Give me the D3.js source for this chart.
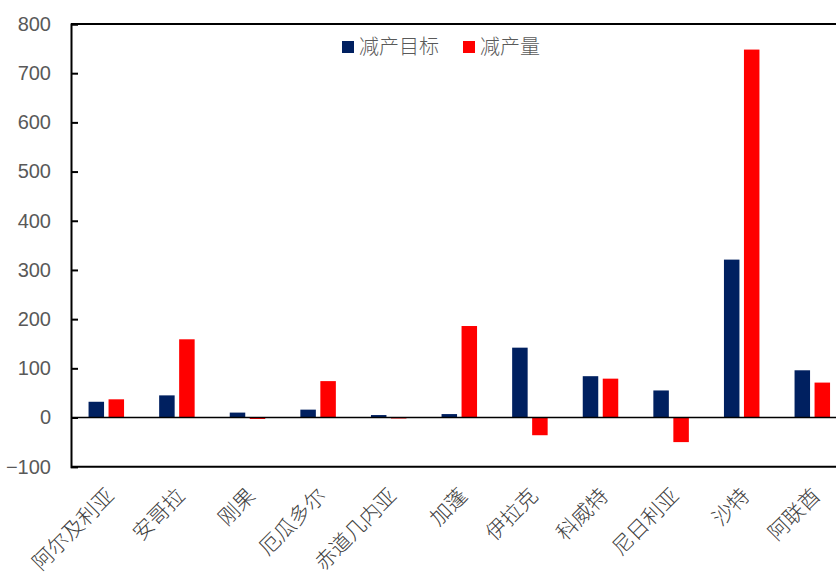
<!DOCTYPE html>
<html>
<head>
<meta charset="utf-8">
<script src="https://cdn.jsdelivr.net/npm/d3@7"></script>
<style>
  body { margin: 0; background: #fff; }
  svg { display: block; }
</style>
</head>
<body>
<div id="chart"></div>
<script>
// data
var countries = ["阿尔及利亚", "安哥拉", "刚果", "厄瓜多尔", "赤道几内亚", "加蓬", "伊拉克", "科威特", "尼日利亚", "沙特", "阿联酋"];
var targetCut = [32, 45, 10, 16, 5, 7, 142, 84, 55, 321, 96];
var actualCut = [37, 159, -3, 74, -2, 186, -36, 79, -50, 748, 71];
var seriesNames = ["减产目标", "减产量"];
var seriesColors = ["#002060", "#ff0000"];
var yTicks = [-100, 0, 100, 200, 300, 400, 500, 600, 700, 800];

var W = 836, H = 585;
var m = {top: 24, left: 71, bottom: 118};
var plotW = 70.6 * countries.length;

var svg = d3.select("#chart").append("svg")
  .attr("width", W)
  .attr("height", H);

var x = d3.scaleBand()
  .domain(countries)
  .range([m.left, m.left + plotW])
  .paddingInner(0)
  .paddingOuter(0);

var y = d3.scaleLinear()
  .domain([-100, 800])
  .range([H - m.bottom - 0.3, m.top]);

var barW = 15.5, gap = 4.5;

// bars
var rows = countries.map(function(c, i) {
  return {c: c, vals: [targetCut[i], actualCut[i]]};
});

var g = svg.append("g");
rows.forEach(function(r) {
  var cx = x(r.c) + x.bandwidth() / 2;
  r.vals.forEach(function(v, k) {
    var bx = k === 0 ? cx - gap / 2 - barW : cx + gap / 2;
    g.append("rect")
      .attr("x", bx)
      .attr("width", barW)
      .attr("y", y(Math.max(0, v)))
      .attr("height", Math.abs(y(v) - y(0)))
      .attr("fill", seriesColors[k]);
  });
});

// frame lines
svg.append("line")
  .attr("x1", m.left).attr("x2", W)
  .attr("y1", y(800)).attr("y2", y(800))
  .attr("stroke", "#000").attr("stroke-width", 2);
svg.append("line")
  .attr("x1", m.left).attr("x2", W)
  .attr("y1", y(-100)).attr("y2", y(-100))
  .attr("stroke", "#000").attr("stroke-width", 2);
svg.append("line")
  .attr("x1", m.left).attr("x2", W)
  .attr("y1", y(0)).attr("y2", y(0))
  .attr("stroke", "#000").attr("stroke-width", 1.5);

// y axis
var yAxis = svg.append("g")
  .attr("transform", "translate(" + m.left + ",0)")
  .call(d3.axisLeft(y).tickValues(yTicks).tickSize(-7).tickPadding(20));
yAxis.select(".domain").attr("stroke", "#000").attr("stroke-width", 2);
yAxis.selectAll(".tick line").attr("stroke", "#000").attr("stroke-width", 2);
yAxis.selectAll(".tick text")
  .attr("fill", "#595959")
  .style("font-family", "'Liberation Sans', Arial, sans-serif")
  .style("font-size", "20px");

// x labels
svg.append("g").selectAll("text")
  .data(countries)
  .enter().append("text")
  .attr("transform", function(d) {
    return "translate(" + (x(d) + x.bandwidth() / 2 + 4) + "," + 492 + ") rotate(-45)";
  })
  .attr("text-anchor", "end")
  .attr("dy", "0.35em")
  .attr("fill", "#404040")
  .style("font-family", "'Noto Sans CJK SC', sans-serif")
  .style("font-weight", 300)
  .style("font-size", "21px")
  .text(function(d) { return d; });

// legend
var legX = [342, 463];
seriesNames.forEach(function(name, k) {
  svg.append("rect")
    .attr("x", legX[k]).attr("y", 41)
    .attr("width", 12).attr("height", 12)
    .attr("fill", seriesColors[k]);
  svg.append("text")
    .attr("x", legX[k] + 17).attr("y", 47)
    .attr("dy", "0.36em")
    .attr("fill", "#595959")
    .style("font-family", "'Noto Sans CJK SC', sans-serif")
    .style("font-weight", 300)
    .style("font-size", "20px")
    .text(name);
});
</script>
</body>
</html>
